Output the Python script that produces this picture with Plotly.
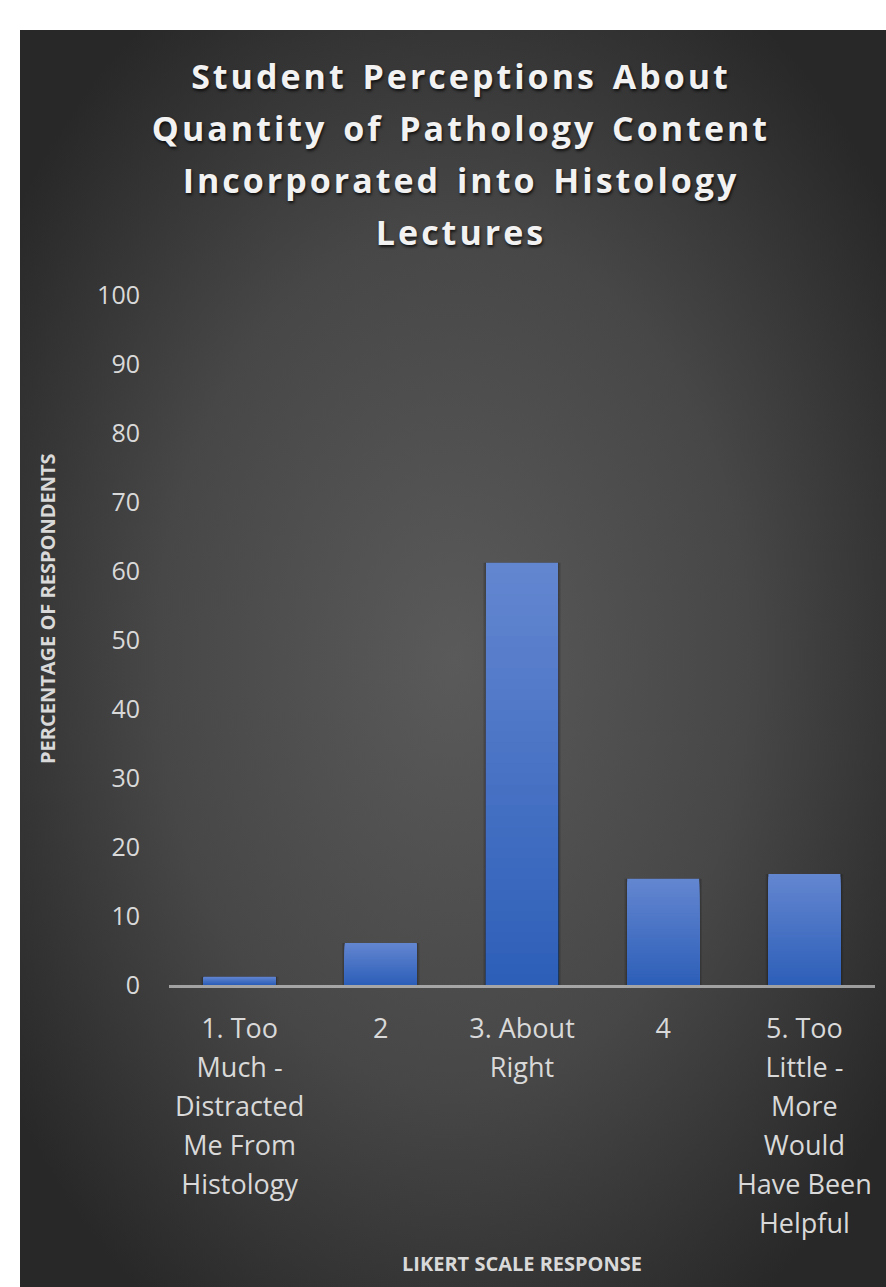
import base64
import plotly.graph_objects as go

# ---- data ---------------------------------------------------------------
categories = [
    "1. Too Much - Distracted Me From Histology",
    "2",
    "3. About Right",
    "4",
    "5. Too Little - More Would Have Been Helpful",
]
tick_lines = [
    ["1. Too", "Much -", "Distracted", "Me From", "Histology"],
    ["2"],
    ["3. About", "Right"],
    ["4"],
    ["5. Too", "Little -", "More", "Would", "Have Been", "Helpful"],
]
percentages = [1.2, 6.1, 61.2, 15.4, 16.1]
y_ticks = list(range(0, 101, 10))

title_lines = [
    "Student Perceptions About",
    "Quantity of Pathology Content",
    "Incorporated into Histology",
    "Lectures",
]
x_title = "LIKERT SCALE RESPONSE"
y_title = "PERCENTAGE OF RESPONDENTS"

# ---- styling ------------------------------------------------------------
W, H = 886, 1287
ML, MR, MT, MB = 169, 11, 295, 302
PANEL_LEFT, PANEL_TOP = 20, 30
FONT = "Open Sans"
LABEL_COLOR = "#d9d9d9"
BAR_TOP = (99, 134, 208)
BAR_BOTTOM = (44, 94, 184)
N_SHADES = 40
BAR_WIDTH = 0.51

plot_w = W - ML - MR
plot_h = H - MT - MB


def span(text, size, extra=""):
    return f'<span style="font-size:{size}px;{extra}">{text}</span>'


def lerp(c0, c1, t):
    return "rgb({},{},{})".format(*[round(a + (b - a) * t) for a, b in zip(c0, c1)])


# radial background for the dark panel
svg = (
    '<svg xmlns="http://www.w3.org/2000/svg" width="866" height="1257" '
    'viewBox="0 0 866 1257" preserveAspectRatio="none">'
    '<defs><radialGradient id="g" cx="0.5" cy="0.5" r="0.62">'
    '<stop offset="0" stop-color="#5a5a5a"/>'
    '<stop offset="0.55" stop-color="#474747"/>'
    '<stop offset="1" stop-color="#282828"/>'
    '</radialGradient></defs>'
    '<rect x="0" y="0" width="866" height="1257" fill="url(#g)"/></svg>'
)
bg_src = "data:image/svg+xml;base64," + base64.b64encode(svg.encode()).decode()

fig = go.Figure()

# soft shadow behind the bars
for w, a in [(BAR_WIDTH + 0.04, 0.10), (BAR_WIDTH + 0.02, 0.16)]:
    fig.add_trace(go.Bar(
        x=categories, y=percentages, width=w,
        marker=dict(color=f"rgba(0,0,0,{a})", line=dict(width=0)),
        hoverinfo="skip", showlegend=False,
    ))

# vertical gradient: successively shorter, darker bars laid over each other
for k in range(N_SHADES):
    frac = 1 - k / N_SHADES
    fig.add_trace(go.Bar(
        x=categories, y=[v * frac for v in percentages], width=BAR_WIDTH,
        marker=dict(color=lerp(BAR_BOTTOM, BAR_TOP, frac), line=dict(width=0)),
        hoverinfo="skip" if k else "x+y", showlegend=False,
    ))

title_text = "<br>".join(
    span(t, 34, "letter-spacing:3px;word-spacing:4px") for t in title_lines
)

fig.update_layout(
    width=W, height=H,
    margin=dict(l=ML, r=MR, t=MT, b=MB, pad=0),
    paper_bgcolor="white",
    plot_bgcolor="rgba(0,0,0,0)",
    barmode="overlay",
    showlegend=False,
    font=dict(family=FONT, color=LABEL_COLOR),
    title=dict(
        text=title_text,
        x=461 / W, xanchor="center", xref="container",
        y=1 - 89 / H, yanchor="top", yref="container",
        font=dict(family=FONT, size=40, color="#f2f2f2", weight="bold",
                  shadow="1px 2px 3px rgba(0,0,0,0.75)"),
    ),
    xaxis=dict(
        type="category",
        tickvals=categories,
        ticktext=["<br>".join(span(t, 27) for t in lines) for lines in tick_lines],
        tickfont=dict(family=FONT, size=30, color=LABEL_COLOR),
        showgrid=False, zeroline=False,
        showline=True, linecolor="rgba(215,215,215,0.65)", linewidth=3,
        ticks="", ticklabelstandoff=14,
    ),
    yaxis=dict(
        range=[0, 100], tickvals=y_ticks,
        tickfont=dict(family=FONT, size=25, color=LABEL_COLOR),
        showgrid=False, zeroline=False, showline=False,
        ticks="", ticklabelstandoff=28,
    ),
    images=[dict(
        source=bg_src, xref="paper", yref="paper",
        x=(PANEL_LEFT - ML) / plot_w, y=(H - MB - PANEL_TOP) / plot_h,
        sizex=(W - PANEL_LEFT) / plot_w, sizey=(H - PANEL_TOP) / plot_h,
        xanchor="left", yanchor="top", sizing="stretch", layer="below",
    )],
    annotations=[
        dict(text=f"<b>{x_title}</b>", xref="paper", yref="paper",
             x=0.5, y=(H - MB - 1263) / plot_h, xanchor="center", yanchor="middle",
             showarrow=False, font=dict(family=FONT, size=20, color=LABEL_COLOR)),
        dict(text=f"<b>{y_title}</b>", xref="paper", yref="paper",
             x=(47 - ML) / plot_w, y=(H - MB - 609) / plot_h,
             xanchor="center", yanchor="middle", textangle=-90,
             showarrow=False, font=dict(family=FONT, size=20, color=LABEL_COLOR)),
    ],
)

fig.write_html("out.html")
